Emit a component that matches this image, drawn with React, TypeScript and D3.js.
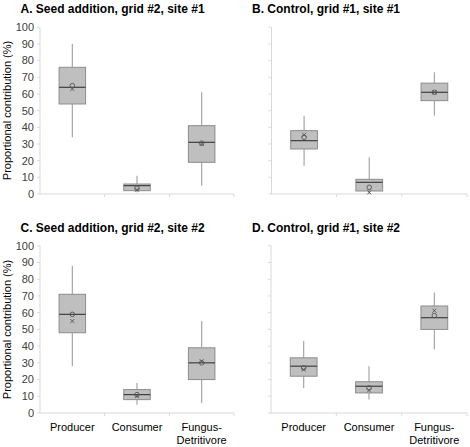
import React from "react";
import * as d3 from "d3";

const categories = ["Producer", "Consumer", "Fungus-Detritivore"];
const categoryLines = [["Producer"], ["Consumer"], ["Fungus-", "Detritivore"]];
const yTicks = [0, 10, 20, 30, 40, 50, 60, 70, 80, 90, 100];

// [min, q1, median, q3, max, meanCircle, meanX]
const panelA = [
  [34, 54, 64, 76, 90, 65, 63],
  [1, 2, 5, 6, 11, 3.5, 2.5],
  [5, 19, 31, 41, 61, 30.5, 30],
];
const panelB = [
  [17, 27, 32, 38, 47, 34, 35.5],
  [0, 1.8, 7, 8.8, 22, 4, 1],
  [47, 56, 61, 66.5, 73, 61, 61],
];
const panelC = [
  [28, 48, 59, 71, 88, 59, 55],
  [5, 8, 11, 14, 18, 11, 10],
  [6, 20, 30, 39, 55, 30, 31],
];
const panelD = [
  [15, 22, 28, 33, 43, 27, 26],
  [8, 12, 16, 18.7, 28, 15, 13.5],
  [38, 50, 57, 64, 72, 58.3, 61.2],
];

const titles = [
  "A. Seed addition, grid #2, site #1",
  "B. Control, grid #1, site #1",
  "C. Seed addition, grid #2, site #2",
  "D. Control, grid #1, site #2",
];

const FONT = "'Liberation Sans', Arial, sans-serif";

type PanelProps = {
  data: number[][];
  title: string;
  axisX: number;
  axisRight: number;
  yTop: number;
  yBottom: number;
  titleX: number;
  titleY: number;
  showYLabels: boolean;
  showXLabels: boolean;
};

function Panel({ data, title, axisX, axisRight, yTop, yBottom, titleX, titleY, showYLabels, showXLabels }: PanelProps) {
  const y = d3.scaleLinear().domain([0, 100]).range([yBottom, yTop]);
  const x = d3.scaleBand<string>().domain(categories).range([axisX, axisRight]).paddingInner(0).paddingOuter(0);
  const bw = x.bandwidth();
  const boxW = bw * 0.41;
  const axisColor = "#d9d9d9";
  return (
    <g>
      <text x={titleX} y={titleY} fontFamily={FONT} fontWeight="bold" fontSize={12} fill="#000">
        {title}
      </text>
      <line x1={axisX} x2={axisX} y1={yTop} y2={yBottom} stroke={axisColor} strokeWidth={1} />
      <line x1={axisX} x2={axisRight} y1={yBottom} y2={yBottom} stroke={axisColor} strokeWidth={1} />
      {yTicks.map((t) => (
        <g key={t}>
          <line x1={axisX - 3} x2={axisX} y1={y(t)} y2={y(t)} stroke={axisColor} />
          {showYLabels && (
            <text x={axisX - 6} y={y(t)} dy="0.35em" textAnchor="end" fontFamily={FONT} fontSize={11} fill="#404040">
              {t}
            </text>
          )}
        </g>
      ))}
      {categories.map((c) => (
        <line key={c} x1={x(c)! + bw} x2={x(c)! + bw} y1={yBottom} y2={yBottom + 3} stroke={axisColor} />
      ))}
      {showXLabels &&
        categories.map((c, i) => (
          <text key={c} x={x(c)! + bw / 2} y={yBottom + 18} textAnchor="middle" fontFamily={FONT} fontSize={11} fill="#000">
            {categoryLines[i].map((l, j) => (
              <tspan key={j} x={x(c)! + bw / 2} dy={j === 0 ? 0 : 12.5}>
                {l}
              </tspan>
            ))}
          </text>
        ))}
      {data.map((d, i) => {
        const cx = x(categories[i])! + bw / 2;
        const [mn, q1, med, q3, mx, mc, mxx] = d;
        return (
          <g key={i}>
            <line x1={cx} x2={cx} y1={y(mx)} y2={y(q3)} stroke="#a6a6a6" strokeWidth={1.2} />
            <line x1={cx} x2={cx} y1={y(q1)} y2={y(mn)} stroke="#a6a6a6" strokeWidth={1.2} />
            <rect x={cx - boxW / 2} y={y(q3)} width={boxW} height={y(q1) - y(q3)} fill="#bfbfbf" stroke="#8c8c8c" strokeWidth={1} />
            <line x1={cx - boxW / 2} x2={cx + boxW / 2} y1={y(med)} y2={y(med)} stroke="#404040" strokeWidth={1.2} />
            <circle cx={cx} cy={y(mc)} r={2.3} fill="none" stroke="#555" strokeWidth={0.9} />
            <path
              d={`M${cx - 2},${y(mxx) - 2}L${cx + 2},${y(mxx) + 2}M${cx - 2},${y(mxx) + 2}L${cx + 2},${y(mxx) - 2}`}
              stroke="#555"
              strokeWidth={0.9}
            />
          </g>
        );
      })}
    </g>
  );
}

export default function App() {
  return (
    <svg width={470} height={447} style={{ position: "absolute", left: 0, top: 0, background: "#fff" }}>
      <rect width={470} height={447} fill="#fff" />
      <Panel data={panelA} title={titles[0]} axisX={40} axisRight={234} yTop={27.3} yBottom={194} titleX={20.5} titleY={12.5} showYLabels showXLabels={false} />
      <Panel data={panelB} title={titles[1]} axisX={271.5} axisRight={467} yTop={27.3} yBottom={194} titleX={252} titleY={12.5} showYLabels={false} showXLabels={false} />
      <Panel data={panelC} title={titles[2]} axisX={40} axisRight={234} yTop={245.8} yBottom={413} titleX={20.5} titleY={231.5} showYLabels showXLabels />
      <Panel data={panelD} title={titles[3]} axisX={271} axisRight={467} yTop={245.8} yBottom={413} titleX={252} titleY={231.5} showYLabels={false} showXLabels />
      <text transform="translate(11,110.5) rotate(-90)" textAnchor="middle" fontFamily={FONT} fontSize={11} fill="#000">
        Proportional contribution (%)
      </text>
      <text transform="translate(11,329.5) rotate(-90)" textAnchor="middle" fontFamily={FONT} fontSize={11} fill="#000">
        Proportional contribution (%)
      </text>
    </svg>
  );
}
